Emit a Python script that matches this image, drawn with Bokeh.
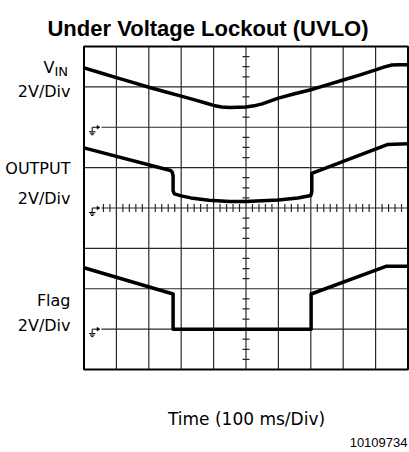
from bokeh.plotting import figure
from bokeh.models import Range1d
from bokeh.embed import file_html
from bokeh.resources import INLINE
from bokeh.core.properties import value
import numpy as np

# ---- scope settings ----
TIME_PER_DIV = 100.0   # ms / div
VOLT_PER_DIV = 2.0     # V / div
N_XDIV, N_YDIV = 10, 8

# ground reference (in divisions from screen bottom) of each channel
vin_gnd, out_gnd, flag_gnd = 6, 4, 1

# ---- traces (time in ms, volts relative to channel ground) ----
vin_t = [0, 50, 100, 150, 200, 250, 300, 350, 375, 400, 425, 450, 500, 525,
         550, 600, 650, 700, 750, 800, 850, 900, 925, 950, 975, 1000]
vin_v = [2.94, 2.70, 2.46, 2.22, 1.98, 1.76, 1.54, 1.32, 1.20, 1.08, 1.00, 0.98,
         1.00, 1.06, 1.16, 1.44, 1.66, 1.86, 2.10, 2.34, 2.58, 2.84, 2.98, 3.08,
         3.10, 3.10]

out_t = [0, 267, 272, 275, 275, 279, 300, 330, 385, 450, 500, 600, 660, 700,
         703, 703, 936, 1000]
out_v = [2.98, 1.86, 1.78, 1.60, 0.84, 0.70, 0.60, 0.50, 0.38, 0.32, 0.32, 0.40,
         0.50, 0.62, 0.80, 1.72, 3.14, 3.18]

flag_t = [0, 275, 275, 701, 701, 934, 1000]
flag_v = [3.04, 1.74, 0.0, 0.0, 1.74, 3.12, 3.12]

# ---- page geometry ----
W, H = 409, 452
OFF = 0                    # canvas offset on the page
GX0, GX1 = 83.5, 407.5     # page x of screen left / right edge
GY0, GY1 = 369.0, 46.0     # page y of screen bottom / top edge
DX = (GX1 - GX0) / N_XDIV
DY = (GY0 - GY1) / N_YDIV


def X(px):
    return (px - GX0) / DX


def Y(py):
    return (GY0 - py) / DY


p = figure(width=W, height=H, x_range=Range1d(X(OFF), X(OFF + W)),
           y_range=Range1d(Y(OFF + H), Y(OFF)), x_axis_type=None, y_axis_type=None,
           toolbar_location=None, output_backend="svg", min_border=0,
           outline_line_color=None)
p.xgrid.visible = False
p.ygrid.visible = False

GRID = "#2a2a2a"
gnd_levels = [vin_gnd, out_gnd, flag_gnd]
gx_start = X(101)

# vertical grid lines
vx = list(range(1, N_XDIV))
p.segment(x0=vx, y0=[0] * len(vx), x1=vx, y1=[N_YDIV] * len(vx),
          line_color=GRID, line_width=1.2)
# horizontal grid lines
hy = list(range(1, N_YDIV))
p.segment(x0=[gx_start if y in gnd_levels else 0 for y in hy], y0=hy,
          x1=[N_XDIV] * len(hy), y1=hy, line_color=GRID, line_width=1.2)

# minor ticks on center axes
cx, cy = N_XDIV / 2, N_YDIV / 2
ty = [k * 0.25 for k in range(0, N_YDIV * 4 + 1) if k % 4 != 0]
tl = 3.5 / DX
p.segment(x0=[cx - tl] * len(ty), y0=ty, x1=[cx + tl] * len(ty), y1=ty,
          line_color=GRID, line_width=1.2)
tx = [k * 0.2 for k in range(0, N_XDIV * 5 + 1) if k % 5 != 0 and k * 0.2 > gx_start]
th = 4.0 / DY
p.segment(x0=tx, y0=[cy - th] * len(tx), x1=tx, y1=[cy + th] * len(tx),
          line_color=GRID, line_width=1.2)

# ground symbols
sx0, sy0, sx1, sy1 = [], [], [], []
for g in gnd_levels:
    gp = GY0 - g * DY  # page y
    segs = [(91.7, gp, 97.0, gp), (91.7, gp, 91.7, gp + 4.5),
            (88.5, gp + 4.5, 95.0, gp + 4.5), (89.5, gp + 6.0, 94.0, gp + 6.0),
            (90.5, gp + 7.5, 93.0, gp + 7.5)]
    for a, b, c, d in segs:
        sx0.append(X(a)); sy0.append(Y(b)); sx1.append(X(c)); sy1.append(Y(d))
    p.patch([X(96.5), X(99.5), X(96.5)], [Y(gp - 1.8), Y(gp), Y(gp + 1.8)],
            fill_color="black", line_color="black", line_width=0.5)
p.segment(x0=sx0, y0=sy0, x1=sx1, y1=sy1, line_color="black", line_width=1)

# border
p.quad(left=[0], right=[N_XDIV], bottom=[0], top=[N_YDIV], fill_color=None,
       line_color="black", line_width=2)

# traces
for t, v, g in [(vin_t, vin_v, vin_gnd), (out_t, out_v, out_gnd),
                (flag_t, flag_v, flag_gnd)]:
    xs = np.array(t) / TIME_PER_DIV
    ys = g + np.array(v) / VOLT_PER_DIV
    p.line(xs, ys, line_color="black", line_width=3.5, line_join="round")

# texts
LF = value("DejaVu Sans")
def txt(px, py, s, size, align="right", font=LF, style="normal"):
    p.text(x=[X(px)], y=[Y(py)], text=[s], text_font=font,
           text_font_size=f"{size}px", text_align=align,
           text_baseline="alphabetic", text_color="black",
           text_font_style=style)

txt(207.5, 28, "Under Voltage Lockout (UVLO)", 22, "center",
    value("Liberation Sans"), "bold")
txt(54, 67, "V", 16)
txt(54, 71, "IN", 13, "left")
txt(70, 91, "2V/Div", 16)
txt(70, 168, "OUTPUT", 16)
txt(70, 198, "2V/Div", 16)
txt(70, 300, "Flag", 16)
txt(70, 325, "2V/Div", 16)
txt(246, 418, "Time (100 ms/Div)", 17, "center")
txt(407, 442, "10109734", 13, "right", value("Liberation Sans"))

open("out.html", "w").write(file_html(p, INLINE))
